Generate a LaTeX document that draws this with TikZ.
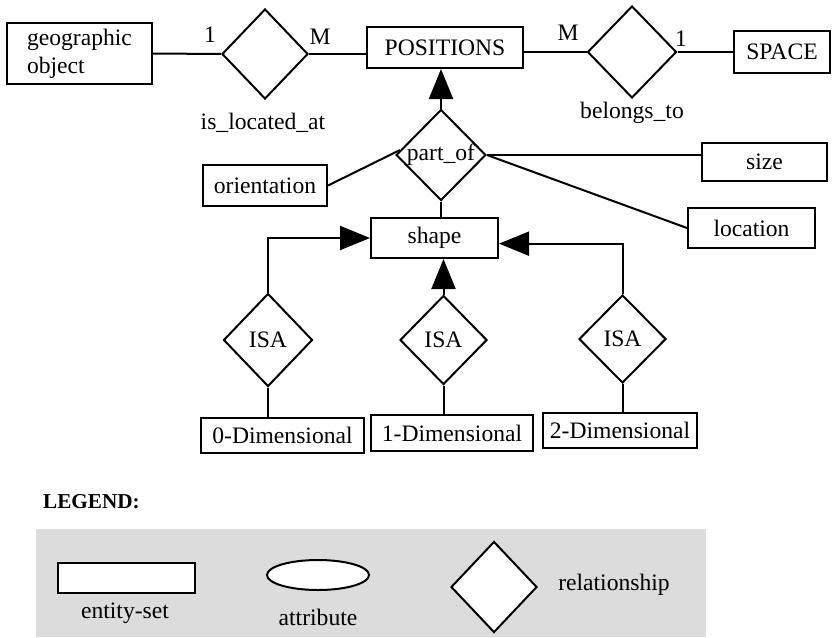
\documentclass[tikz,border=0pt]{standalone}
\usepackage{fontspec}
\setmainfont{Liberation Serif}
\usepackage{tikz}
\usetikzlibrary{shapes.geometric,arrows.meta}
\definecolor{legendgray}{RGB}{220,220,220}

\begin{document}
\begin{tikzpicture}[x=0.5pt,y=-0.5pt,line width=1pt,
  font=\fontsize{11.8}{14}\selectfont,
  ent/.style={draw,rectangle,fill=white,inner sep=0pt},
  rel/.style={draw,diamond,fill=white,inner sep=0pt},
  isa/.style={-{Triangle[length=15pt,width=12pt]}}]
\useasboundingbox (0,0) rectangle (833,637);
% entity row
\node[ent,minimum width=72.5pt,minimum height=30.5pt,align=left] (geo) at (79.5,53.5) {geographic\\object};
\node[rel,minimum width=43pt,minimum height=45pt] (isloc) at (265,54) {};
\node (isloclab) at (263,123) {is\_located\_at};
\node[ent,minimum width=78pt,minimum height=20.5pt] (pos) at (445,47.5) {POSITIONS};
\node[rel,minimum width=44.5pt,minimum height=46pt] (belongs) at (632,52) {};
\node (belongslab) at (632,113) {belongs\_to};
\node[ent,minimum width=48pt,minimum height=21pt] (space) at (782,52) {SPACE};
\draw (geo.east) -- (isloc.west);
\draw (isloc.east) -- (isloc.east -| pos.west);
\draw (pos.east |- belongs.west) -- (belongs.west);
\draw (belongs.east) -- (space.west);
\node (c1) at (210,35) {1};
\node (c2) at (320,37) {M};
\node (c3) at (568,33) {M};
\node (c4) at (681,39) {1};
% part_of and its attributes
\node[rel,minimum width=44pt,minimum height=45.5pt] (partof) at (441,155) {part\_of};
\node[ent,minimum width=62pt,minimum height=20.5pt] (orient) at (265,185.5) {orientation};
\node[ent,minimum width=62.5pt,minimum height=19pt] (size) at (764.5,162) {size};
\node[ent,minimum width=63.5pt,minimum height=20pt] (loc) at (751.5,228) {location};
\node[ent,minimum width=63.5pt,minimum height=20pt] (shape) at (434.5,238) {shape};
\draw[isa] (partof.north) -- (partof.north |- pos.south);
\draw (orient.east) -- (partof.173);
\draw (partof.east) -- (partof.east -| size.west);
\draw (partof.east) -- (loc.west);
\draw (partof.south) -- (partof.south |- shape.north);
% ISA
\node[rel,minimum width=44.5pt,minimum height=46.5pt] (isa0) at (268,340) {ISA};
\node[rel,minimum width=43.5pt,minimum height=44.5pt] (isa1) at (443.5,340) {ISA};
\node[rel,minimum width=43.5pt,minimum height=44pt] (isa2) at (622.5,339) {ISA};
\node[ent,minimum width=81.5pt,minimum height=17.5pt] (d0) at (282.5,435.5) {0-Dimensional};
\node[ent,minimum width=81pt,minimum height=18pt] (d1) at (452,433) {1-Dimensional};
\node[ent,minimum width=77pt,minimum height=17.5pt] (d2) at (620,430.5) {2-Dimensional};
\draw[isa] (isa0.north) |- (shape.west);
\draw[isa] (isa1.north) -- (isa1.north |- shape.south);
\draw[isa] (isa2.north) |- (shape.-5);
\draw (isa0.south) -- (isa0.south |- d0.north);
\draw (isa1.south) -- (isa1.south |- d1.north);
\draw (isa2.south) -- (isa2.south |- d2.north);
% legend
\node[font=\fontsize{10.6}{12}\selectfont\bfseries] (leg) at (91.5,502) {LEGEND:};
\fill[legendgray] (36,529) rectangle (706,637);
\node[ent,minimum width=68.5pt,minimum height=15pt] (lent) at (126.5,578) {};
\node (lentlab) at (125,613) {entity-set};
\node[draw,ellipse,fill=white,inner sep=0pt,minimum width=51pt,minimum height=15pt] (lattr) at (318,575) {};
\node (lattrlab) at (318,617) {attribute};
\node[rel,minimum width=43pt,minimum height=45.5pt] (lrel) at (494,587) {};
\node (lrellab) at (614,585) {relationship};
\end{tikzpicture}
\end{document}
